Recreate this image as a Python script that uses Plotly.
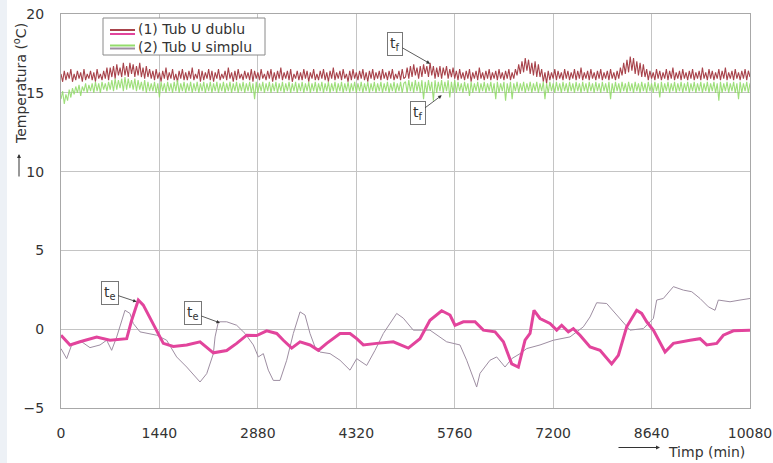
import plotly.graph_objects as go

# ---------------- data ----------------
STEP_TF = 24  # sampling step (min) of the t_f series

tf_dublu = [
    # 0 - 696
    16.2,15.7,16.4,15.8,16.3,15.9,16.5,15.7,16.2,15.8,
    16.4,15.9,16.3,15.7,16.5,15.8,16.2,15.9,16.4,15.8,
    16.3,15.7,16.5,15.9,16.2,15.8,16.4,15.9,16.6,15.8,
    # 720 - 1320
    16.6,16.0,16.7,15.9,16.8,16.1,16.6,16.0,16.9,16.1,
    16.7,16.0,16.9,16.2,16.8,16.0,16.7,16.1,16.9,16.0,
    16.6,15.9,16.7,16.0,16.5,15.9,
    # 1344 - 5016
    16.4,15.8,16.5,15.9,16.3,15.7,16.4,15.9,16.6,15.8,
    16.3,15.9,16.5,15.8,16.2,15.7,16.4,15.9,16.5,15.8,
    16.3,15.8,16.4,15.9,16.6,15.8,16.2,15.9,16.5,15.7,
    16.4,15.8,16.3,15.9,16.5,15.8,16.4,15.7,16.3,15.9,
    16.5,15.8,16.2,15.9,16.4,15.8,16.6,15.9,16.3,15.7,
    16.4,15.8,16.5,15.9,16.2,15.8,16.4,15.9,16.3,15.8,
    16.5,15.7,16.4,15.9,16.3,15.8,16.5,15.9,16.2,15.8,
    16.4,15.9,16.5,15.7,16.3,15.8,16.4,15.9,16.6,15.8,
    16.3,15.9,16.4,15.8,16.5,15.7,16.2,15.9,16.4,15.8,
    16.3,15.8,16.5,15.9,16.4,15.7,16.3,15.9,16.5,15.8,
    16.2,15.8,16.4,15.9,16.5,15.8,16.3,15.7,16.4,15.9,
    16.6,15.8,16.3,15.9,16.4,15.8,16.5,15.9,16.2,15.7,
    16.4,15.8,16.5,15.9,16.3,15.8,16.4,15.9,16.5,15.8,
    16.3,15.7,16.4,15.9,16.5,15.8,16.3,15.9,16.4,15.8,
    16.5,15.9,16.3,15.8,16.4,15.9,16.5,15.8,16.2,15.9,
    16.4,15.8,16.5,15.9,
    # 5040 - 5760
    16.0,16.6,15.9,16.7,16.0,16.8,16.1,16.6,15.9,16.7,
    16.0,16.8,16.2,16.7,16.0,16.9,16.1,16.7,15.9,16.6,
    16.0,16.7,15.9,16.6,16.1,16.7,15.9,16.5,16.0,16.6,
    15.9,
    # 5784 - 6648
    16.4,15.8,16.5,15.9,16.3,15.8,16.4,15.9,16.5,15.7,
    16.3,15.9,16.4,15.8,16.6,15.9,16.3,15.8,16.4,15.9,
    16.5,15.8,16.3,15.9,16.4,15.8,16.5,15.9,16.3,15.8,
    16.4,15.9,16.5,15.8,16.3,15.9,16.5,
    # 6672 - 7008
    16.1,16.8,16.2,17.0,16.3,17.2,16.4,17.1,16.2,16.9,
    16.1,17.0,16.0,16.8,16.0,
    # 7032 - 8184
    16.5,15.7,16.3,15.6,16.4,15.8,16.3,15.9,16.5,15.8,
    16.4,15.9,16.3,15.8,16.5,15.9,16.4,15.8,16.3,15.9,
    16.5,15.8,16.4,15.9,16.6,15.8,16.3,15.9,16.4,15.8,
    16.5,15.9,16.3,15.8,16.4,15.9,16.5,15.8,16.3,15.9,
    16.4,15.8,16.5,15.9,16.3,15.8,16.4,15.9,16.6,
    # 8208 - 8544
    16.1,16.9,16.2,17.1,16.3,17.3,16.4,17.2,16.2,17.0,
    16.1,16.9,16.0,16.8,16.0,
    # 8568 - 10080
    16.5,15.8,16.4,15.9,16.3,15.8,16.5,15.9,16.4,15.8,
    16.3,15.9,16.5,15.8,16.4,15.9,16.6,15.8,16.3,15.9,
    16.4,15.8,16.5,15.9,16.3,15.8,16.4,15.9,16.5,15.8,
    16.3,15.9,16.4,15.8,16.6,15.9,16.3,15.8,16.5,15.9,
    16.4,15.8,16.3,15.9,16.5,15.8,16.4,15.9,16.6,15.8,
    16.3,15.9,16.4,15.8,16.5,15.9,16.3,15.8,16.4,15.9,
    16.5,15.8,16.4,16.0,
]

tf_simplu = [
    14.6,15.1,14.3,14.9,14.5,15.2,14.7,15.3,14.9,15.4,
    15.0,15.5,14.8,15.4,15.1,15.6,15.0,15.5,15.1,15.6,
    15.0,15.7,15.1,15.6,15.0,15.7,15.2,15.6,15.1,15.7,
    15.2,15.8,15.1,15.9,15.2,15.8,15.3,15.9,15.1,16.0,
    15.2,15.9,15.3,15.8,15.2,15.9,15.1,15.8,15.2,15.7,
    15.1,15.8,15.0,15.7,15.1,15.6,
    15.1,15.7,15.0,15.6,14.7,15.7,15.1,15.6,15.0,15.7,
    15.1,15.6,15.0,15.7,15.1,15.8,15.0,15.6,15.1,15.7,
    15.0,15.6,15.1,15.7,15.0,15.6,15.1,15.7,15.0,15.6,
    15.1,15.7,15.0,15.6,15.1,15.7,15.0,15.6,15.1,15.7,
    15.0,15.6,15.1,15.7,15.0,15.6,15.1,15.7,15.0,15.6,
    15.1,15.7,15.0,15.6,15.1,15.7,15.0,15.6,15.1,15.7,
    15.0,15.6,14.6,15.7,15.0,15.6,15.1,15.7,15.0,15.6,
    15.1,15.7,15.0,15.6,15.1,15.7,15.0,15.6,15.1,15.7,
    15.0,15.6,15.1,15.7,15.0,15.6,15.1,15.7,15.0,15.6,
    15.1,15.7,15.0,15.6,15.1,15.7,15.0,15.6,15.1,15.7,
    15.0,15.6,15.1,15.7,15.0,15.6,15.1,15.7,15.0,15.6,
    15.1,15.7,15.0,15.6,15.1,15.7,15.0,15.6,15.1,15.7,
    15.0,15.6,15.1,15.7,15.0,15.6,15.1,15.7,15.0,15.6,
    15.1,15.7,15.0,15.6,15.1,15.7,15.0,15.6,15.1,15.7,
    15.0,15.6,15.1,15.7,15.0,15.6,15.1,15.7,15.0,15.6,
    15.1,15.7,15.0,15.6,
    15.7,15.0,15.8,15.1,15.7,15.0,15.8,15.1,15.7,15.0,
    15.8,14.6,15.7,15.0,15.8,15.1,15.7,14.5,15.8,15.0,
    15.7,15.1,15.8,15.0,15.7,15.1,15.8,14.7,15.7,15.0,
    15.8,
    15.0,15.7,15.1,15.6,15.0,15.7,15.1,15.6,14.8,15.7,
    15.0,15.6,15.1,15.7,15.0,15.6,15.1,15.7,15.0,15.6,
    15.1,15.7,15.0,15.6,14.6,15.7,15.0,15.6,15.1,15.7,
    14.5,15.6,15.0,15.7,14.6,15.6,15.1,
    15.7,15.0,15.6,15.1,15.7,15.0,15.6,15.1,15.7,15.0,
    15.6,15.1,15.7,15.0,15.6,
    15.1,15.7,14.6,15.6,15.0,15.7,15.1,15.6,15.0,15.7,
    15.1,15.6,15.0,15.7,15.1,15.6,15.0,15.7,15.1,15.6,
    15.0,15.7,15.1,15.6,15.0,15.7,15.1,15.6,15.0,15.7,
    15.1,15.6,15.0,15.7,15.1,15.6,15.0,15.7,15.1,15.6,
    15.0,15.7,14.6,15.6,15.0,15.7,15.1,15.6,15.0,
    15.7,15.1,15.6,15.0,15.7,15.1,15.6,15.0,15.7,15.1,
    15.6,15.0,15.7,15.1,15.6,
    15.0,15.7,15.1,15.6,15.0,15.7,15.1,15.6,14.7,15.7,
    15.0,15.6,15.1,15.7,15.0,15.6,15.1,15.7,15.0,15.6,
    15.1,15.7,15.0,15.6,15.1,15.7,15.0,15.6,15.1,15.7,
    15.0,15.6,15.1,15.7,15.0,15.6,15.1,15.7,15.0,15.6,
    15.1,15.7,15.0,15.6,14.5,15.7,15.0,15.6,15.1,15.7,
    15.0,15.6,15.1,15.7,15.0,15.6,14.6,15.7,15.0,15.6,
    15.1,15.7,15.0,15.6,
]

te_dublu_t = [0,132,278,522,717,961,1034,1131,1204,1302,1400,1497,1643,1839,2034,2229,2424,2570,2717,2863,
              3009,3156,3253,3375,3497,3643,3765,3887,4082,4228,4326,4423,4619,4862,5081,5252,5398,5569,5691,5764,
              5886,6057,6179,6350,6472,6594,6691,6789,6862,6920,7008,7154,7252,7325,7422,7495,7593,7740,7886,8056,
              8154,8276,8422,8495,8569,8666,8837,8959,9203,9349,9447,9593,9690,9837,10080]
te_dublu_v = [-0.38,-1.0,-0.8,-0.5,-0.7,-0.6,0.57,1.85,1.53,0.7,-0.06,-0.9,-1.1,-1.0,-0.8,-1.5,-1.35,-0.9,-0.38,-0.4,
              -0.1,-0.27,-0.7,-1.2,-0.8,-1.0,-1.34,-0.9,-0.27,-0.27,-0.6,-1.0,-0.9,-0.8,-1.2,-0.6,0.57,1.17,0.9,0.25,
              0.47,0.47,-0.06,-0.17,-0.8,-2.2,-2.4,-0.7,-0.27,1.2,0.68,0.36,-0.06,0.25,-0.17,0.04,-0.38,-1.13,-1.34,-2.2,
              -1.66,0.15,1.2,1.0,0.47,-0.06,-1.45,-0.9,-0.7,-0.6,-1.0,-0.9,-0.38,-0.1,-0.06]

te_simplu_t = [0,83,156,303,424,571,668,741,815,936,1009,1058,1156,1253,1400,1546,1692,1839,2034,2132,
               2229,2254,2302,2424,2570,2692,2814,2887,2960,3033,3106,3204,3302,3399,3497,3570,3643,3716,3790,3936,
               4082,4228,4326,4472,4594,4716,4911,5008,5154,5398,5642,5837,5935,6081,6130,6276,6374,6496,6594,6716,
               6813,7008,7203,7447,7642,7740,7837,7983,8178,8325,8520,8666,8715,8812,8959,9105,9227,9349,9471,9568,
               9617,9788,9934,10080]
te_simplu_v = [-1.23,-1.87,-1.0,-0.8,-1.17,-1.0,-0.7,-1.34,-0.49,1.2,1.0,0.36,-0.17,-0.27,-0.38,-0.7,-1.76,-2.4,-3.35,-2.82,
               -1.55,-0.49,0.47,0.47,0.25,-0.27,-1.0,-1.76,-1.55,-2.6,-3.25,-3.25,-1.97,-0.27,1.1,0.9,-0.27,-1.13,-1.45,-1.55,
               -1.97,-2.6,-1.87,-2.3,-1.34,-0.27,1.0,0.7,-0.06,-0.06,-0.8,-1.0,-1.97,-3.67,-2.8,-1.97,-1.76,-2.4,-1.87,-1.55,
               -1.23,-1.0,-0.7,-0.49,0.15,0.78,1.68,1.63,0.68,-0.06,0.04,0.68,1.85,1.95,2.7,2.48,2.38,1.95,1.42,1.2,
               1.85,1.74,1.85,1.95]

x_ticks = [0, 1440, 2880, 4320, 5760, 7200, 8640, 10080]
y_ticks = [-5, 0, 5, 10, 15, 20]
legend_labels = ["(1) Tub U dublu", "(2) Tub U simplu"]

C_RED = "#a8434b"
C_MAG = "#e2449c"
C_GRN = "#94dc6c"
C_GRY = "#9e8ea2"

# ---------------- figure ----------------
t_dublu = [STEP_TF * i for i in range(len(tf_dublu))]
t_simplu = [STEP_TF * i for i in range(len(tf_simplu))]

fig = go.Figure()
fig.add_trace(go.Scatter(x=t_dublu, y=tf_dublu, mode="lines",
                         line=dict(color=C_RED, width=1.1), showlegend=False))
fig.add_trace(go.Scatter(x=t_simplu, y=tf_simplu, mode="lines",
                         line=dict(color=C_GRN, width=1.1), opacity=0.9, showlegend=False))
fig.add_trace(go.Scatter(x=te_simplu_t, y=te_simplu_v, mode="lines",
                         line=dict(color=C_GRY, width=1), showlegend=False))
fig.add_trace(go.Scatter(x=te_dublu_t, y=te_dublu_v, mode="lines",
                         line=dict(color=C_MAG, width=3), showlegend=False))

FONT = "DejaVu Sans"
fig.update_layout(
    width=773, height=463,
    margin=dict(l=61, r=23, t=14, b=55),
    paper_bgcolor="white", plot_bgcolor="white",
    font=dict(family=FONT, size=14, color="#333333"),
    showlegend=False,
)
fig.update_xaxes(range=[0, 10080], tickvals=x_ticks, ticktext=[str(v) for v in x_ticks],
                 showgrid=True, gridcolor="#c4c4c4", gridwidth=1, zeroline=False, automargin=False,
                 showline=True, linecolor="#a8a8a8", mirror=True, ticks="",
                 ticklabelstandoff=12, tickfont=dict(size=14, color="#333333"))
fig.update_yaxes(range=[-5, 20], tickvals=y_ticks,
                 showgrid=True, gridcolor="#c4c4c4", gridwidth=1, zeroline=False, automargin=False,
                 showline=True, linecolor="#a8a8a8", mirror=True, ticks="",
                 ticklabelstandoff=13, tickfont=dict(size=14, color="#333333"))

PW, PH = 689.0, 394.0
def px(x):
    return (x - 61) / PW
def py(y):
    return (408 - y) / PH

# left light strip
fig.add_shape(type="rect", xref="paper", yref="paper", x0=px(0), x1=px(7), y0=py(463), y1=py(0),
              fillcolor="#edf1f6", line=dict(width=0), layer="below")

# manual legend
fig.add_shape(type="rect", xref="paper", yref="paper", x0=px(103), x1=px(265), y0=py(55), y1=py(18),
              fillcolor="white", line=dict(color="#8a8a8a", width=1), layer="above")
for yy, col in [(30, C_RED), (34, C_MAG), (45.5, C_GRN), (48.5, C_GRY)]:
    fig.add_shape(type="line", xref="paper", yref="paper", x0=px(110), x1=px(135), y0=py(yy), y1=py(yy),
                  line=dict(color=col, width=2), layer="above")
for yy, lab in [(29.5, legend_labels[0]), (47, legend_labels[1])]:
    fig.add_annotation(xref="paper", yref="paper", x=px(136), y=py(yy), text=lab, showarrow=False,
                       xanchor="left", yanchor="middle", font=dict(size=14, color="#333333"))

# callouts
callouts = [
    (5399, 16.85, "t<sub>f</sub>", -35, -20),
    (5570, 14.84, "t<sub>f</sub>", -24, 18),
    (1107, 1.74, "t<sub>e</sub>", -27, -9),
    (2326, 0.4, "t<sub>e</sub>", -27, -10),
]
for x, y, txt, ax, ay in callouts:
    fig.add_annotation(x=x, y=y, text=txt, showarrow=True, ax=ax, ay=ay,
                       arrowhead=2, arrowsize=0.9, arrowwidth=0.8, arrowcolor="#333333",
                       bordercolor="#777777", borderwidth=1, borderpad=2, bgcolor="white",
                       font=dict(size=14, color="#333333"))

# axis titles
fig.add_annotation(xref="paper", yref="paper", x=px(747), y=py(452), text="Timp (min)", showarrow=False,
                   xanchor="right", yanchor="middle", font=dict(size=14, color="#333333"))
fig.add_annotation(xref="paper", yref="paper", x=px(660), y=py(447.5), text="", showarrow=True,
                   ax=-43, ay=0, arrowhead=2, arrowsize=0.8, arrowwidth=1, arrowcolor="#333333")
fig.add_annotation(xref="paper", yref="paper", x=px(20), y=py(84), text="Temperatura (<sup>o</sup>C)",
                   showarrow=False, textangle=-90, xanchor="center", yanchor="middle",
                   font=dict(size=14, color="#333333"))
fig.add_annotation(xref="paper", yref="paper", x=px(19), y=py(154), text="", showarrow=True,
                   ax=0, ay=24, arrowhead=2, arrowsize=0.8, arrowwidth=1, arrowcolor="#333333")

fig.write_html("out.html", config={"displayModeBar": False},
               post_script="document.body.style.margin='0';document.body.style.overflow='hidden';")
